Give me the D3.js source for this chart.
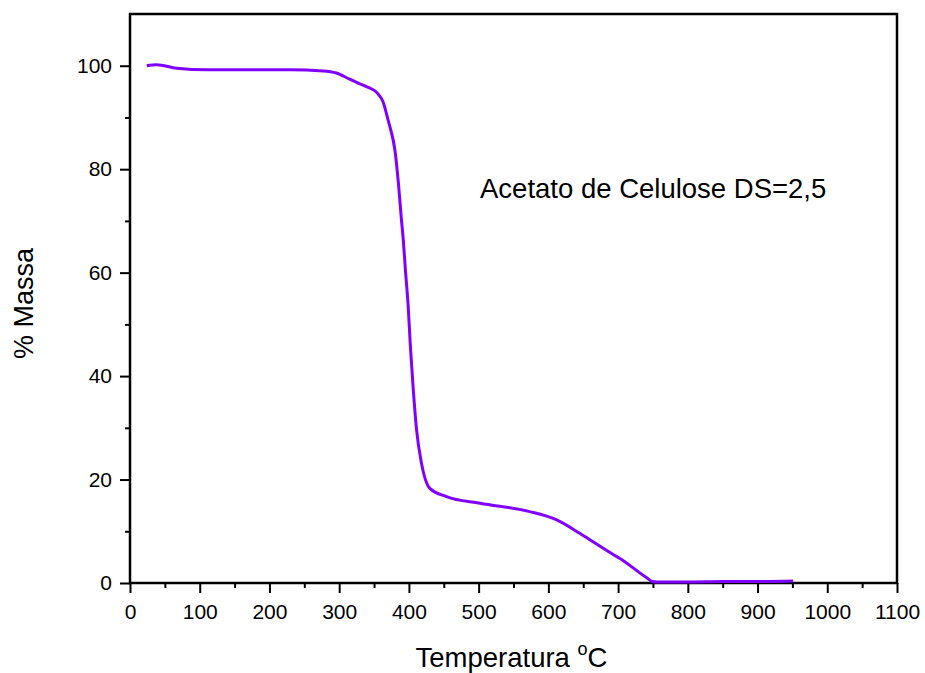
<!DOCTYPE html>
<html>
<head>
<meta charset="utf-8">
<script src="https://cdn.jsdelivr.net/npm/d3@7"></script>
<style>
  body { margin: 0; background: #fff; }
  text { font-family: "Liberation Sans", Arial, sans-serif; fill: #000; }
</style>
</head>
<body>
<script>
// TGA curve
var temps = [24, 38, 67, 110, 229, 277, 296, 315, 325, 340, 354, 363, 370, 373, 380, 385, 389, 392, 395, 399, 402, 406, 411, 418, 430, 454, 502, 573, 612, 645, 659, 693, 702, 741, 749, 755, 800, 850, 900, 951];
var mass  = [100, 100.2, 99.5, 99.2, 99.2, 99.0, 98.6, 97.4, 96.8, 95.9, 94.8, 93.0, 89.6, 88.1, 83.6, 77.2, 70.7, 66.2, 60.5, 53.4, 46.0, 37.9, 29.6, 23.2, 18.3, 16.7, 15.4, 13.8, 12.2, 9.6, 8.4, 5.5, 4.8, 1.0, 0.3, 0.2, 0.2, 0.3, 0.3, 0.4];

var xTicks = [0, 100, 200, 300, 400, 500, 600, 700, 800, 900, 1000, 1100];
var yTicks = [0, 20, 40, 60, 80, 100];
var xLabel = "Temperatura ";
var yLabel = "% Massa";
var note = "Acetato de Celulose DS=2,5";

var margin = {top: 14, right: 28, bottom: 90, left: 130};
var width = 925 - margin.left - margin.right;
var height = 673 - margin.top - margin.bottom;

var xScale = d3.scaleLinear().domain([0, 1100]).range([0, width]);
var yScale = d3.scaleLinear().domain([0, 110]).range([height, 0]);

var svg = d3.select("body").append("svg")
    .attr("width", 925)
    .attr("height", 673)
    .append("g")
    .attr("transform", "translate(" + margin.left + "," + margin.top + ")");

// minor ticks
svg.append("g")
    .attr("transform", "translate(0," + height + ")")
    .call(d3.axisBottom(xScale).tickValues(d3.range(50, 1100, 100)).tickSize(5).tickFormat(""))
    .call(g => g.select(".domain").remove());
svg.append("g")
    .call(d3.axisLeft(yScale).tickValues(d3.range(10, 110, 20)).tickSize(5).tickFormat(""))
    .call(g => g.select(".domain").remove());

var xAxis = d3.axisBottom(xScale).tickValues(xTicks).tickSize(10).tickPadding(11)
    .tickSizeOuter(0).tickFormat(d3.format("d"));
var yAxis = d3.axisLeft(yScale).tickValues(yTicks).tickSize(10).tickPadding(8)
    .tickSizeOuter(0).tickFormat(d3.format("d"));

svg.append("g")
    .attr("class", "x axis")
    .attr("transform", "translate(0," + height + ")")
    .call(xAxis);

svg.append("g")
    .attr("class", "y axis")
    .call(yAxis);

svg.selectAll(".tick line").attr("stroke", "#000").attr("stroke-width", 2);
svg.selectAll(".tick text").style("font-size", "21px");

// frame
svg.append("rect")
    .attr("x", 0).attr("y", 0)
    .attr("width", width).attr("height", height)
    .attr("fill", "none")
    .attr("stroke", "#000")
    .attr("stroke-width", 2.5);

var line = d3.line()
    .x(function(d, i) { return xScale(temps[i]); })
    .y(function(d, i) { return yScale(mass[i]); })
    .curve(d3.curveMonotoneX);

svg.append("path")
    .datum(temps)
    .attr("d", line)
    .attr("fill", "none")
    .attr("stroke", "#8000ff")
    .attr("stroke-width", 3);

svg.append("text")
    .attr("x", xScale(502))
    .attr("y", yScale(74.5))
    .style("font-size", "27.5px")
    .text(note);

var xt = svg.append("text")
    .attr("x", width / 2 - 2)
    .attr("y", height + 84)
    .attr("text-anchor", "middle")
    .style("font-size", "27.5px");
xt.append("tspan").text(xLabel);
xt.append("tspan").attr("dy", -12).style("font-size", "18px").text("o");
xt.append("tspan").attr("dy", 12).text("C");

svg.append("text")
    .attr("transform", "translate(-97," + (height / 2 + 5) + ") rotate(-90)")
    .attr("text-anchor", "middle")
    .style("font-size", "27px")
    .text(yLabel);
</script>
</body>
</html>
